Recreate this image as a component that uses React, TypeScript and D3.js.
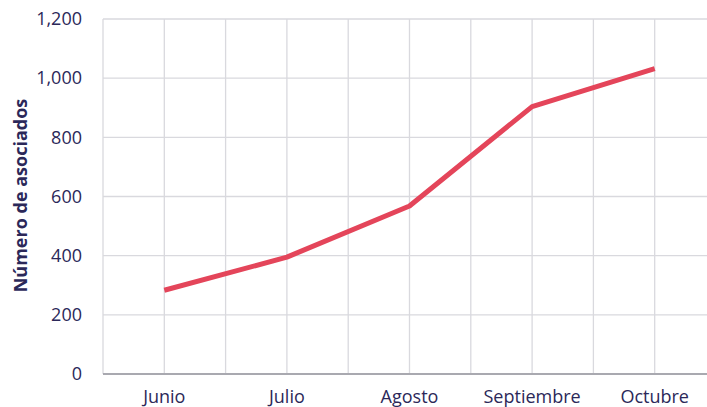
import React from "react";
import * as d3 from "d3";

const months = ["Junio", "Julio", "Agosto", "Septiembre", "Octubre"];
const associates = [283, 395, 568, 904, 1032];
const yTicks = [0, 200, 400, 600, 800, 1000, 1200];
const yTitle = "Número de asociados";

const W = 707;
const H = 407;
const left = 103;
const right = 716;
const top = 19;
const bottom = 374;
const textColor = "#2b2859";
const lineColor = "#e4455a";
const gridColor = "#d9d9de";
const font = "'Open Sans', 'Noto Sans', sans-serif";

export default function App() {
  const x = d3.scaleBand<string>().domain(months).range([left, right]).padding(0);
  const y = d3.scaleLinear().domain([0, 1200]).range([bottom, top]);
  const cx = (m: string) => (x(m) as number) + x.bandwidth() / 2;
  const vLines: number[] = [];
  months.forEach((m) => {
    vLines.push(x(m) as number);
    vLines.push(cx(m));
  });
  vLines.push(right);
  const line = d3
    .line<number>()
    .x((_, i) => cx(months[i]))
    .y((d) => y(d));
  const fmt = d3.format(",");
  return (
    <svg width={W} height={H} style={{ position: "absolute", left: 0, top: 0 }} fontFamily={font}>
      <rect width={W} height={H} fill="#fff" />
      {yTicks.slice(1).map((t) => (
        <line key={"h" + t} x1={left} x2={right} y1={y(t)} y2={y(t)} stroke={gridColor} strokeWidth={1.3} />
      ))}
      {vLines.map((v, i) => (
        <line key={"v" + i} x1={v} x2={v} y1={top} y2={bottom} stroke={gridColor} strokeWidth={1.3} />
      ))}
      <line x1={left} x2={right} y1={bottom} y2={bottom} stroke="#a9a9b0" strokeWidth={2.2} />
      {yTicks.map((t) => (
        <text key={"yt" + t} x={82} y={y(t)} dy="0.35em" textAnchor="end" fontSize={18} fill={textColor}>
          {fmt(t)}
        </text>
      ))}
      {months.map((m) => (
        <text key={"xt" + m} x={cx(m)} y={402.5} textAnchor="middle" fontSize={18} fill={textColor}>
          {m}
        </text>
      ))}
      <text
        transform={`translate(27, ${(top + bottom) / 2 - 1}) rotate(-90)`}
        textAnchor="middle"
        fontSize={18}
        fontWeight="bold"
        fill={textColor}
      >
        {yTitle}
      </text>
      <path d={line(associates) || ""} fill="none" stroke={lineColor} strokeWidth={5} strokeLinejoin="round" />
    </svg>
  );
}
